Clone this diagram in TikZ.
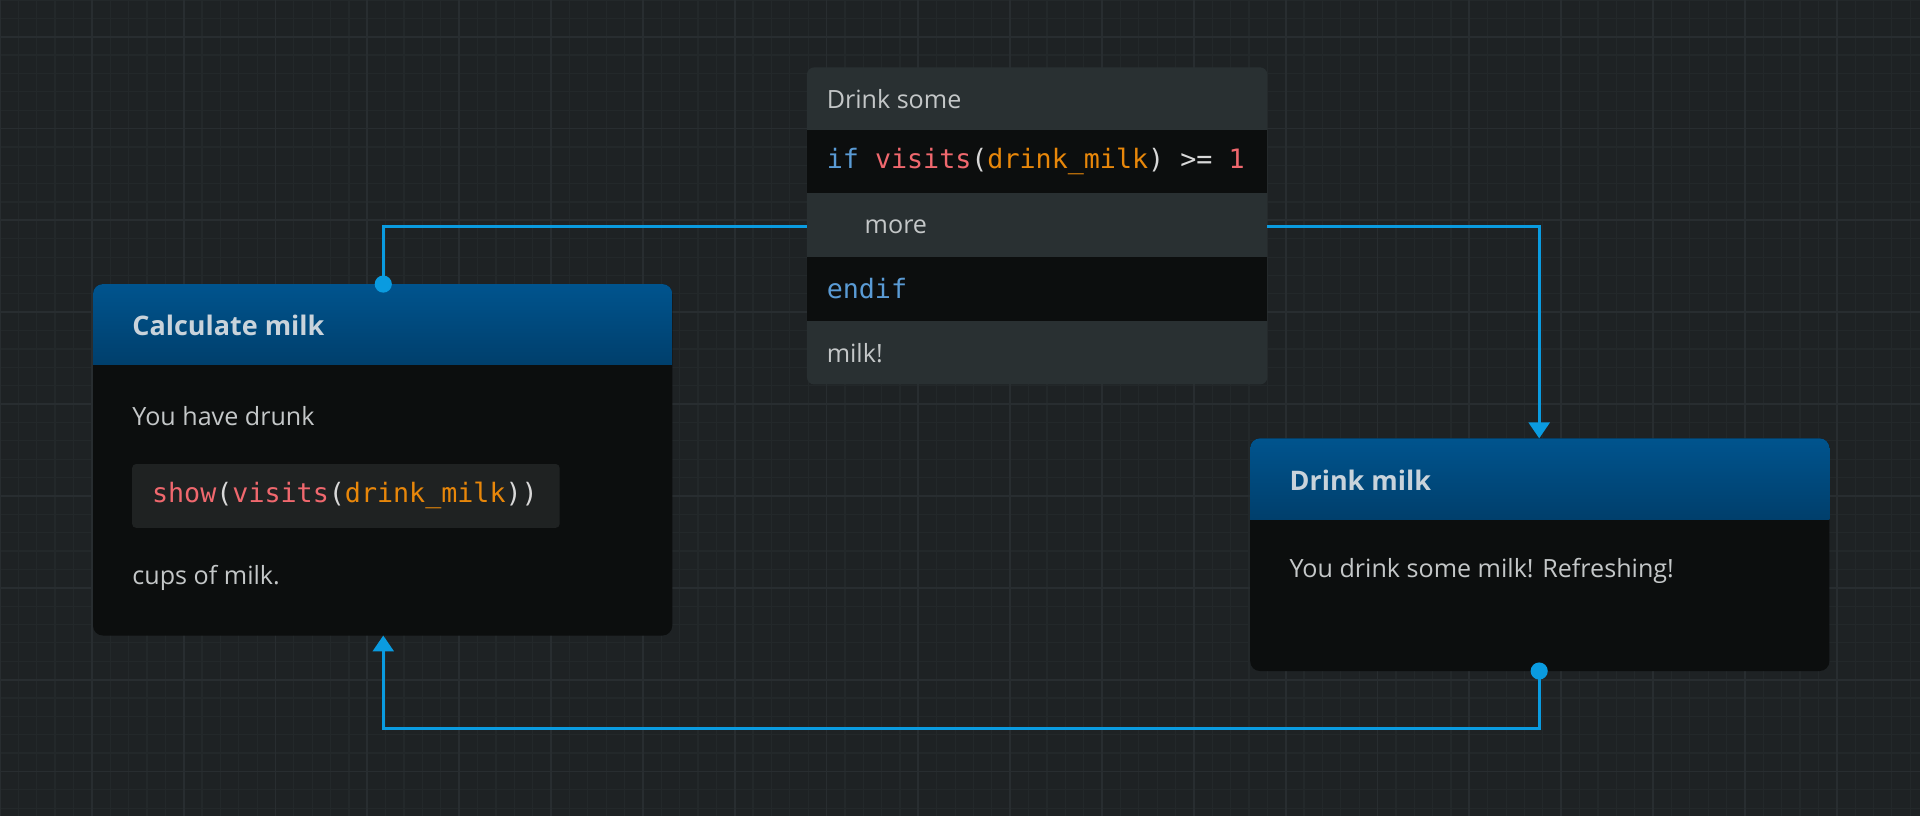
\documentclass[tikz,border=0pt]{standalone}
\usepackage{fontspec}
\setmainfont{Open Sans}
\setmonofont{DejaVu Sans Mono}
\usetikzlibrary{arrows.meta}
\definecolor{bg}{HTML}{1E2224}
\definecolor{gminor}{HTML}{23282A}
\definecolor{gmajor}{HTML}{282D30}
\definecolor{hdtop}{HTML}{00548E}
\definecolor{hdbot}{HTML}{003F6C}
\definecolor{body}{HTML}{0C0E0E}
\definecolor{rowg}{HTML}{293032}
\definecolor{chip}{HTML}{1F2222}
\definecolor{txt}{HTML}{C4C7C8}
\definecolor{hdtxt}{HTML}{C9D3DB}
\definecolor{kwb}{HTML}{5A9BD5}
\definecolor{kwr}{HTML}{F0686E}
\definecolor{kwo}{HTML}{E8870A}
\definecolor{kww}{HTML}{D8D8D8}
\definecolor{wire}{HTML}{0A9BE0}
\tikzset{
  x=1pt,y=-1pt,
  lbl/.style={text=txt,font=\fontsize{20.5}{24}\selectfont,anchor=west,inner sep=0},
  hdr/.style={text=hdtxt,font=\fontsize{22}{26}\selectfont\bfseries,anchor=west,inner sep=0},
  code/.style={font=\fontsize{21.8}{24}\selectfont\ttfamily,anchor=west,inner sep=0,text=kww},
  wirel/.style={draw=wire,line width=2.5pt},
  dotc/.style={circle,fill=wire,inner sep=0,minimum size=14pt},
}
\begin{document}
\begin{tikzpicture}
\fill[bg] (0,0) rectangle (1568,666);
\useasboundingbox (0,0) rectangle (1568,666);
\foreach \x in {0,15,...,1568} \draw[gminor,line width=1pt] (\x,0) -- (\x,666);
\foreach \y in {0,15,...,666} \draw[gminor,line width=1pt] (0,\y) -- (1568,\y);
\foreach \x in {0,75,...,1568} \draw[gmajor,line width=1.5pt] (\x,0) -- (\x,666);
\foreach \y in {30,105,...,666} \draw[gmajor,line width=1.5pt] (0,\y) -- (1568,\y);

% middle block
\fill[rowg,rounded corners=6pt] (659,55) rectangle (1035,314);
\fill[body] (659,106) rectangle (1035,158);
\fill[body] (659,210) rectangle (1035,262);
\node[lbl] (m1) at (675,81) {Drink some};
\node[code] (m2) at (675,132) {\textcolor{kwb}{if} \textcolor{kwr}{visits}(\textcolor{kwo}{drink\_milk}) >= \textcolor{kwr}{1}};
\node[lbl] (m3) at (706,185) {more};
\node[code] (m4) at (675,236) {\textcolor{kwb}{endif}};
\node[lbl] (m5) at (675,288) {milk!};
\coordinate (ml) at (659,185);
\coordinate (mr) at (1035,185);

% Calculate milk
\fill[body,rounded corners=8pt] (76,232) rectangle (549,519);
\begin{scope}
\clip[rounded corners=8pt] (76,232) rectangle (549,330);
\shade[top color=hdtop,bottom color=hdbot] (76,232) rectangle (549,298);
\end{scope}
\node[hdr] (c1) at (108,266) {Calculate milk};
\node[lbl] (c2) at (108,340) {You have drunk};
\fill[chip,rounded corners=3pt] (108,379) rectangle (457,431);
\node[code] (c3) at (124,405) {\textcolor{kwr}{show}(\textcolor{kwr}{visits}(\textcolor{kwo}{drink\_milk}))};
\node[lbl] (c4) at (108,472) {cups of milk.};
\coordinate (ctop) at (313,232);
\coordinate (cbot) at (313,519);

% Drink milk
\fill[body,rounded corners=8pt] (1021,358) rectangle (1494,548);
\begin{scope}
\clip[rounded corners=8pt] (1021,358) rectangle (1494,450);
\shade[top color=hdtop,bottom color=hdbot] (1021,358) rectangle (1494,424);
\end{scope}
\node[hdr] (d1) at (1053,392) {Drink milk};
\node[lbl] (d2) at (1053,466) {You drink some milk! Refreshing!};
\coordinate (dtop) at (1257,358);
\coordinate (dbot) at (1257,548);

% wires
\draw[wirel] (ml) -| (ctop);
\node[dotc] at (ctop) {};
\draw[wirel,-{Triangle[length=13pt,width=17pt]}] (mr) -| (dtop);
\draw[wirel,-{Triangle[length=13pt,width=17pt]}] (dbot) -- (1257,595) -| (cbot);
\node[dotc] at (dbot) {};
\end{tikzpicture}
\end{document}
